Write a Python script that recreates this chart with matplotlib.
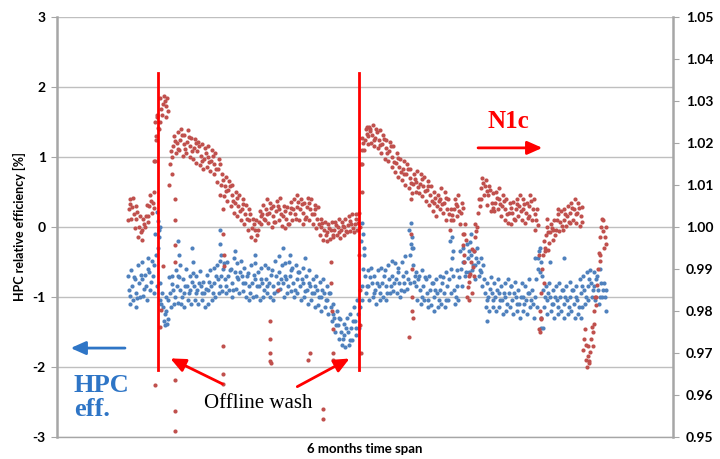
import matplotlib
matplotlib.use("Agg")
import matplotlib.pyplot as plt
import numpy as np

plt.rcParams["axes.unicode_minus"] = False
plt.rcParams["font.family"] = ["Lato", "DejaVu Sans"]

# day index of the samples (6 month span)
days = np.arange(21, 161)

# HPC relative efficiency [%] - four readings per day across the cloud
hpc_mid = [
    -0.90, -0.85, -0.95, -0.80, -0.75, -0.85, -0.65, -0.70, -0.40, -0.80,
    -1.15, -1.20, -0.95, -0.90, -0.85, -0.90, -0.95, -0.85, -0.90, -0.85,
    -0.90, -0.85, -0.95, -0.90, -0.85, -0.80, -0.75, -0.70, -0.75, -0.70,
    -0.80, -0.65, -0.75, -0.70, -0.80, -0.85, -0.80, -0.75, -0.85, -0.80,
    -0.75, -0.80, -0.85, -0.70, -0.65, -0.80, -0.75, -0.70, -0.80, -0.75,
    -0.85, -0.80, -0.90, -0.85, -0.95, -0.90, -1.00, -0.95, -1.05, -1.15,
    -1.30, -1.40, -1.50, -1.55, -1.50, -1.45, -1.35, -1.25, -0.85, -0.70,
    -0.85, -0.80, -0.90, -0.85, -0.80, -0.85, -0.75, -0.70, -0.75, -0.80,
    -0.70, -0.65, -0.40, -0.55, -0.85, -0.90, -0.85, -0.95, -0.90, -1.00,
    -0.95, -0.90, -0.95, -0.85, -0.60, -0.90, -0.85, -0.60, -0.50, -0.45,
    -0.40, -0.55, -0.50, -0.65, -0.95, -1.00, -0.95, -1.00, -0.95, -1.05,
    -1.00, -0.95, -1.05, -1.00, -1.10, -1.00, -1.05, -0.95, -1.10, -0.75,
    -0.65, -0.90, -1.05, -1.00, -1.10, -1.05, -1.00, -1.10, -1.05, -1.00,
    -1.10, -1.05, -0.95, -0.90, -0.85, -0.80, -0.85, -0.90, -0.80, -1.00,
]
hpc_hi = [
    -0.70, -0.62, -0.75, -0.55, -0.50, -0.68, -0.45, -0.48, -0.10, -0.05,
    -0.95, -1.00, -0.72, -0.70, -0.62, -0.72, -0.75, -0.60, -0.70, -0.66,
    -0.70, -0.63, -0.78, -0.68, -0.62, -0.58, -0.55, -0.48, -0.52, -0.50,
    -0.60, -0.45, -0.52, -0.48, -0.58, -0.66, -0.55, -0.52, -0.65, -0.58,
    -0.55, -0.58, -0.62, -0.48, -0.42, -0.55, -0.52, -0.50, -0.58, -0.55,
    -0.65, -0.58, -0.70, -0.62, -0.75, -0.70, -0.78, -0.75, -0.85, -0.95,
    -1.10, -1.20, -1.32, -1.38, -1.30, -1.25, -1.15, -1.05, -0.20, -0.40,
    -0.62, -0.58, -0.70, -0.62, -0.58, -0.62, -0.55, -0.48, -0.52, -0.58,
    -0.50, -0.42, -0.05, -0.30, -0.65, -0.70, -0.62, -0.75, -0.70, -0.80,
    -0.75, -0.70, -0.72, -0.65, -0.20, -0.70, -0.62, -0.35, -0.30, -0.25,
    -0.22, -0.35, -0.30, -0.45, -0.75, -0.80, -0.72, -0.80, -0.75, -0.85,
    -0.80, -0.75, -0.85, -0.78, -0.90, -0.80, -0.85, -0.75, -0.90, -0.45,
    -0.35, -0.70, -0.85, -0.80, -0.90, -0.85, -0.80, -0.90, -0.85, -0.78,
    -0.90, -0.85, -0.75, -0.70, -0.65, -0.62, -0.65, -0.70, -0.60, -0.80,
]
hpc_lo = [
    -1.10, -1.05, -1.15, -1.00, -0.98, -1.05, -0.90, -0.95, -0.85, -1.05,
    -1.35, -1.38, -1.15, -1.10, -1.08, -1.10, -1.15, -1.05, -1.10, -1.05,
    -1.10, -1.05, -1.15, -1.10, -1.05, -1.00, -0.95, -0.92, -0.95, -0.90,
    -1.00, -0.88, -0.95, -0.92, -1.00, -1.05, -1.00, -0.98, -1.05, -1.00,
    -0.95, -1.00, -1.05, -0.92, -0.88, -1.00, -0.95, -0.92, -1.00, -0.95,
    -1.05, -1.00, -1.10, -1.05, -1.15, -1.12, -1.20, -1.15, -1.25, -1.35,
    -1.50, -1.60, -1.68, -1.72, -1.68, -1.62, -1.55, -1.45, -1.05, -0.95,
    -1.05, -1.00, -1.10, -1.05, -1.00, -1.05, -0.95, -0.92, -0.95, -1.00,
    -0.92, -0.88, -0.80, -0.78, -1.05, -1.10, -1.05, -1.15, -1.12, -1.20,
    -1.15, -1.10, -1.15, -1.05, -0.95, -1.10, -1.05, -0.85, -0.70, -0.65,
    -0.62, -0.75, -0.70, -0.85, -1.15, -1.20, -1.15, -1.20, -1.15, -1.25,
    -1.20, -1.15, -1.25, -1.20, -1.30, -1.20, -1.25, -1.15, -1.30, -1.15,
    -1.45, -1.15, -1.25, -1.20, -1.30, -1.25, -1.20, -1.30, -1.25, -1.20,
    -1.30, -1.25, -1.15, -1.10, -1.05, -1.00, -1.05, -1.10, -1.00, -1.20,
]
hpc_q = [
    -0.98, -0.72, -1.02, -0.68, -0.88, -0.60, -0.78, -0.55, -0.30, -1.10,
    -1.25, -1.05, -0.82, -1.00, -0.70, -1.00, -0.85, -0.95, -0.78, -0.95,
    -0.80, -0.95, -0.88, -0.78, -0.95, -0.70, -0.85, -0.60, -0.85, -0.62,
    -0.90, -0.72, -0.65, -0.80, -0.70, -0.95, -0.68, -0.85, -0.75, -0.90,
    -0.85, -0.68, -0.95, -0.80, -0.75, -0.70, -0.85, -0.62, -0.90, -0.65,
    -0.75, -0.92, -0.80, -0.95, -0.85, -1.00, -0.90, -1.05, -0.95, -1.25,
    -1.40, -1.30, -1.60, -1.45, -1.62, -1.35, -1.45, -1.15, -0.60, -0.85,
    -0.72, -0.95, -0.80, -0.95, -0.70, -0.95, -0.85, -0.80, -0.65, -0.90,
    -0.80, -0.75, -0.25, -0.70, -0.75, -1.00, -0.72, -1.05, -0.80, -0.90,
    -1.05, -0.80, -1.05, -0.75, -0.45, -1.00, -0.72, -0.50, -0.65, -0.35,
    -0.55, -0.45, -0.62, -0.55, -1.05, -0.88, -1.05, -0.90, -1.05, -0.95,
    -1.10, -0.85, -0.95, -1.10, -1.00, -1.10, -0.95, -1.05, -1.00, -0.60,
    -0.50, -1.00, -0.95, -1.10, -1.00, -1.15, -0.90, -1.00, -1.15, -0.90,
    -1.00, -1.15, -0.85, -1.00, -0.75, -0.90, -0.75, -1.00, -0.90, -0.90,
]
# isolated HPC points (spikes)
hpc_extra_day = [29.3, 29.6, 29.8, 30.2, 31.5, 32.5, 35.5, 35.7, 35.9, 39.5,
                 39.7, 47.5, 47.7, 47.9, 52.0, 58.0, 66.0, 68.0, 72.5, 89.2,
                 89.5, 89.8, 103.5, 103.8, 104.0, 115.5, 115.7, 121.0, 125.5,
                 140.5, 141.0, 141.5, 142.0, 144.0, 148.0, 153.0]
hpc_extra_val = [0.22, 0.08, -0.15, 0.00, -1.40, -1.32, -0.20, -0.40, -0.55, -0.30,
                 -0.50, -0.05, -0.25, -0.40, -0.35, -0.40, -0.30, -0.40, -0.45, 0.05,
                 -0.10, -0.30, 0.05, -0.15, -0.30, -0.15, -0.35, -0.10, -1.35,
                 -0.45, -0.30, -1.30, -1.45, -0.50, -0.45, -1.30]

# N1c (right axis) - four readings per day across the cloud
n1c_mid = [
    1.0042, 1.0047, 1.0020, 1.0000, 0.9993, 1.0025, 1.0050, 1.0058, 1.0208, 1.0250,
    1.0292, 1.0287, 1.0150, 1.0192, 1.0200, 1.0208, 1.0197, 1.0203, 1.0192, 1.0187,
    1.0180, 1.0170, 1.0163, 1.0167, 1.0158, 1.0150, 1.0137, 1.0100, 1.0097, 1.0087,
    1.0075, 1.0058, 1.0050, 1.0042, 1.0030, 1.0017, 0.9997, 0.9992, 1.0013, 1.0030,
    1.0042, 1.0033, 1.0025, 1.0037, 1.0042, 1.0025, 1.0020, 1.0033, 1.0042, 1.0047,
    1.0042, 1.0033, 1.0047, 1.0042, 1.0030, 1.0020, 1.0000, 0.9992, 0.9987, 0.9992,
    0.9993, 1.0000, 0.9992, 1.0000, 1.0005, 1.0008, 1.0008, 1.0010, 1.0183, 1.0208,
    1.0217, 1.0220, 1.0213, 1.0208, 1.0197, 1.0187, 1.0180, 1.0167, 1.0153, 1.0142,
    1.0137, 1.0125, 1.0117, 1.0103, 1.0108, 1.0103, 1.0097, 1.0087, 1.0075, 1.0058,
    1.0050, 1.0067, 1.0058, 1.0042, 1.0017, 1.0042, 1.0050, 1.0033, 0.9983, 0.9858,
    0.9917, 0.9975, 1.0033, 1.0092, 1.0097, 1.0075, 1.0058, 1.0058, 1.0067, 1.0050,
    1.0042, 1.0033, 1.0033, 1.0042, 1.0050, 1.0042, 1.0033, 1.0050, 1.0042, 1.0017,
    0.9800, 0.9933, 1.0000, 0.9987, 0.9992, 1.0017, 1.0013, 1.0017, 1.0025, 1.0033,
    1.0042, 1.0033, 1.0025, 0.9733, 0.9692, 0.9733, 0.9800, 0.9900, 1.0000, 0.9975,
]
n1c_hi = [
    1.0067, 1.0070, 1.0050, 1.0025, 1.0020, 1.0053, 1.0075, 1.0083, 1.0263, 1.0308,
    1.0313, 1.0308, 1.0180, 1.0217, 1.0225, 1.0233, 1.0220, 1.0230, 1.0213, 1.0210,
    1.0203, 1.0197, 1.0187, 1.0192, 1.0183, 1.0175, 1.0163, 1.0125, 1.0120, 1.0110,
    1.0100, 1.0083, 1.0075, 1.0067, 1.0053, 1.0042, 1.0020, 1.0017, 1.0037, 1.0053,
    1.0067, 1.0058, 1.0050, 1.0063, 1.0070, 1.0050, 1.0047, 1.0060, 1.0067, 1.0075,
    1.0067, 1.0058, 1.0070, 1.0067, 1.0053, 1.0047, 1.0020, 1.0013, 1.0008, 1.0013,
    1.0013, 1.0020, 1.0013, 1.0020, 1.0025, 1.0030, 1.0030, 1.0033, 1.0213, 1.0233,
    1.0237, 1.0242, 1.0233, 1.0230, 1.0220, 1.0208, 1.0203, 1.0192, 1.0175, 1.0163,
    1.0158, 1.0150, 1.0137, 1.0125, 1.0133, 1.0127, 1.0120, 1.0110, 1.0097, 1.0083,
    1.0075, 1.0092, 1.0083, 1.0067, 1.0042, 1.0067, 1.0075, 1.0058, 1.0008, 0.9883,
    0.9947, 1.0008, 1.0067, 1.0117, 1.0113, 1.0097, 1.0080, 1.0083, 1.0092, 1.0075,
    1.0067, 1.0058, 1.0060, 1.0067, 1.0077, 1.0067, 1.0058, 1.0075, 1.0067, 1.0042,
    0.9842, 0.9967, 1.0020, 1.0008, 1.0017, 1.0042, 1.0037, 1.0042, 1.0050, 1.0058,
    1.0067, 1.0058, 1.0047, 0.9758, 0.9717, 0.9763, 0.9833, 0.9937, 1.0020, 1.0000,
]
n1c_lo = [
    1.0017, 1.0020, 0.9997, 0.9975, 0.9970, 1.0000, 1.0025, 1.0033, 1.0158, 1.0233,
    1.0267, 1.0263, 1.0100, 1.0167, 1.0175, 1.0183, 1.0170, 1.0177, 1.0167, 1.0163,
    1.0153, 1.0147, 1.0137, 1.0142, 1.0133, 1.0125, 1.0108, 1.0075, 1.0073, 1.0063,
    1.0050, 1.0033, 1.0025, 1.0017, 1.0007, 0.9993, 0.9975, 0.9970, 0.9992, 1.0008,
    1.0017, 1.0010, 1.0000, 1.0013, 1.0017, 1.0003, 0.9997, 1.0008, 1.0017, 1.0020,
    1.0017, 1.0008, 1.0023, 1.0017, 1.0007, 0.9997, 0.9980, 0.9970, 0.9967, 0.9972,
    0.9975, 0.9980, 0.9973, 0.9980, 0.9987, 0.9990, 0.9988, 0.9992, 1.0150, 1.0183,
    1.0197, 1.0200, 1.0192, 1.0187, 1.0175, 1.0163, 1.0157, 1.0143, 1.0130, 1.0120,
    1.0113, 1.0100, 1.0092, 1.0080, 1.0083, 1.0080, 1.0073, 1.0063, 1.0053, 1.0037,
    1.0027, 1.0043, 1.0033, 1.0017, 0.9992, 1.0017, 1.0025, 1.0008, 0.9958, 0.9833,
    0.9887, 0.9942, 1.0000, 1.0067, 1.0075, 1.0053, 1.0037, 1.0037, 1.0042, 1.0027,
    1.0017, 1.0010, 1.0008, 1.0017, 1.0025, 1.0017, 1.0010, 1.0027, 1.0017, 0.9992,
    0.9758, 0.9900, 0.9980, 0.9963, 0.9970, 0.9992, 0.9990, 0.9993, 1.0003, 1.0010,
    1.0017, 1.0010, 1.0003, 0.9708, 0.9667, 0.9703, 0.9770, 0.9863, 0.9975, 0.9950,
]
n1c_q = [
    1.0055, 1.0030, 1.0035, 0.9988, 1.0008, 1.0012, 1.0062, 1.0045, 1.0235, 1.0280,
    1.0300, 1.0275, 1.0125, 1.0205, 1.0185, 1.0220, 1.0185, 1.0215, 1.0180, 1.0200,
    1.0192, 1.0158, 1.0175, 1.0155, 1.0170, 1.0138, 1.0150, 1.0112, 1.0085, 1.0098,
    1.0062, 1.0070, 1.0038, 1.0055, 1.0018, 1.0030, 1.0008, 0.9982, 1.0025, 1.0018,
    1.0030, 1.0045, 1.0012, 1.0050, 1.0030, 1.0038, 1.0008, 1.0045, 1.0030, 1.0060,
    1.0055, 1.0020, 1.0058, 1.0030, 1.0042, 1.0008, 1.0010, 0.9980, 0.9997, 0.9980,
    1.0005, 0.9988, 1.0003, 0.9990, 1.0015, 0.9998, 1.0020, 1.0000, 1.0200, 1.0222,
    1.0228, 1.0208, 1.0225, 1.0195, 1.0210, 1.0175, 1.0192, 1.0155, 1.0165, 1.0130,
    1.0125, 1.0138, 1.0105, 1.0115, 1.0095, 1.0115, 1.0085, 1.0098, 1.0062, 1.0070,
    1.0062, 1.0055, 1.0070, 1.0030, 1.0028, 1.0055, 1.0038, 1.0045, 0.9970, 0.9870,
    0.9905, 0.9990, 1.0050, 1.0105, 1.0085, 1.0088, 1.0045, 1.0070, 1.0055, 1.0062,
    1.0030, 1.0045, 1.0020, 1.0055, 1.0038, 1.0055, 1.0022, 1.0062, 1.0030, 1.0005,
    0.9780, 0.9950, 0.9988, 0.9998, 0.9980, 1.0030, 1.0002, 1.0030, 1.0012, 1.0045,
    1.0030, 1.0045, 1.0012, 0.9720, 0.9680, 0.9750, 0.9815, 0.9920, 0.9990, 0.9960,
]
# isolated N1c points (drops around washes and trips)
n1c_extra_day = [28.5, 28.8, 29.2, 29.0, 28.6, 30.1, 30.5, 31.0,
                 34.5, 34.5, 34.6, 34.4, 34.5, 34.6, 34.5,
                 48.5, 48.6, 48.7, 48.8, 48.5, 48.5, 48.6,
                 62.2, 62.2, 62.3, 62.3, 62.4, 64.5, 73.4, 74.0,
                 77.7, 77.8, 80.0, 80.2, 80.4, 80.5, 80.6, 80.7,
                 88.2, 88.4, 88.6, 88.8, 89.0, 89.1, 90.5, 91.5,
                 102.7, 103.4, 103.5, 103.6, 103.7, 103.8, 103.9,
                 118.6, 118.8, 119.0, 120.5, 121.3, 121.8,
                 140.8, 141.2, 141.5, 142.3, 142.6, 143.5,
                 154.5, 155.5, 156.5, 157.5, 158.5, 159.5]
n1c_extra_val = [1.0158, 1.0250, 1.0267, 1.0217, 0.9623, 0.9762, 0.9802, 0.9908,
                 0.9635, 0.9562, 0.9515, 1.0067, 1.0017, 0.9958, 0.9917,
                 1.0042, 0.9983, 0.9933, 0.9908, 0.9717, 0.9650, 0.9625,
                 0.9775, 0.9733, 0.9700, 0.9680, 0.9675, 0.9850, 0.9683, 0.9700,
                 0.9567, 0.9542, 0.9917, 0.9867, 0.9800, 0.9758, 0.9700, 0.9683,
                 0.9933, 0.9850, 0.9767, 0.9700, 1.0083, 1.0150, 1.0238, 1.0233,
                 0.9738, 1.0067, 0.9983, 0.9900, 0.9833, 0.9800, 0.9783,
                 0.9983, 0.9933, 0.9917, 0.9825, 0.9842, 0.9883,
                 0.9933, 0.9750, 0.9783, 0.9867, 0.9942, 0.9945,
                 0.9683, 0.9675, 0.9717, 0.9833, 0.9933, 1.0017]

wash_days = [29.5, 88.3]

blue = "#4f81bd"
red = "#c0504d"
grid_c = "#bfbfbf"

fig = plt.figure(figsize=(7.2, 4.59), dpi=100)
ax = fig.add_axes([0.079, 0.048, 0.856, 0.915])
ax2 = ax.twinx()

dot = dict(s=9, linewidths=0)
ax.scatter(days - 0.25, hpc_hi, color=blue, **dot)
ax.scatter(days, hpc_mid, color=blue, **dot)
ax.scatter(days + 0.25, hpc_lo, color=blue, **dot)
ax.scatter(days + 0.5, hpc_q, color=blue, **dot)
ax.scatter(hpc_extra_day, hpc_extra_val, color=blue, **dot)

ax2.scatter(days + 0.25, n1c_hi, color=red, **dot)
ax2.scatter(days, n1c_mid, color=red, **dot)
ax2.scatter(days - 0.25, n1c_lo, color=red, **dot)
ax2.scatter(days + 0.5, n1c_q, color=red, **dot)
ax2.scatter(n1c_extra_day, n1c_extra_val, color=red, **dot)

ax.set_xlim(0, 180)
ax.set_ylim(-3, 3)
ax2.set_ylim(0.95, 1.05)
ax.set_yticks(np.arange(-3, 4, 1))
right_ticks = np.arange(0.95, 1.051, 0.01)
ax2.set_yticks(right_ticks)
ax2.set_yticklabels([f"{v:.2f}" for v in right_ticks])
ax.set_xticks([])

ax.grid(axis="y", color=grid_c, linewidth=1)
ax.set_axisbelow(True)
for a in (ax, ax2):
    for side in ("top", "bottom", "left", "right"):
        a.spines[side].set_visible(False)
ax.spines["left"].set_visible(True)
ax.spines["left"].set_color("#a6a6a6")
ax.spines["left"].set_linewidth(1.8)
ax.spines["bottom"].set_visible(True)
ax.spines["bottom"].set_color("#a6a6a6")
ax.spines["bottom"].set_linewidth(1.0)
ax2.spines["right"].set_visible(True)
ax2.spines["right"].set_color("#a6a6a6")
ax2.spines["right"].set_linewidth(1.8)

ax.tick_params(axis="y", length=4, color="#a6a6a6", labelsize=10, pad=4)
ax2.tick_params(axis="y", length=4, color="#a6a6a6", labelsize=10, pad=5)
for lab in ax.get_yticklabels() + ax2.get_yticklabels():
    lab.set_fontweight("bold")

ax.set_ylabel("HPC relative efficiency [%]", fontsize=9, fontweight="bold", labelpad=5)
ax.set_xlabel("6 months time span", fontsize=9.5, fontweight="bold", labelpad=4)

# annotations (drawn on top axes, in left-axis units)
tr = ax.transData
for d in wash_days:
    ax2.plot([d, d], [2.2, -2.05], color="#ff0000", linewidth=2, transform=tr, zorder=5)

arrow = dict(arrowstyle="-|>,head_length=0.9,head_width=0.4", linewidth=2)
ax2.annotate("", xy=(3.2, -1.73), xytext=(20.7, -1.73), xycoords=tr, textcoords=tr,
             arrowprops=dict(color="#2e75c6", **arrow))
ax2.annotate("", xy=(142.6, 1.13), xytext=(122.2, 1.13), xycoords=tr, textcoords=tr,
             arrowprops=dict(color="#ff0000", **arrow))
ax2.annotate("", xy=(32.4, -1.86), xytext=(49.1, -2.26), xycoords=tr, textcoords=tr,
             arrowprops=dict(color="#ff0000", **arrow))
ax2.annotate("", xy=(86.2, -1.86), xytext=(69.5, -2.30), xycoords=tr, textcoords=tr,
             arrowprops=dict(color="#ff0000", **arrow))

serif = ["Liberation Serif", "DejaVu Serif"]
ax2.text(132.0, 1.5, "N1c", transform=tr, color="#ff0000", fontsize=18,
         fontweight="bold", family=serif, ha="center", va="center")
ax2.text(5.0, -2.43, "HPC\neff.", transform=tr, color="#2e75c6", fontsize=19,
         fontweight="bold", family=serif, ha="left", va="center", linespacing=1.05)
ax2.text(58.7, -2.52, "Offline wash", transform=tr, color="black", fontsize=15,
         family=serif, ha="center", va="center")

fig.savefig("out.png", dpi=100)
